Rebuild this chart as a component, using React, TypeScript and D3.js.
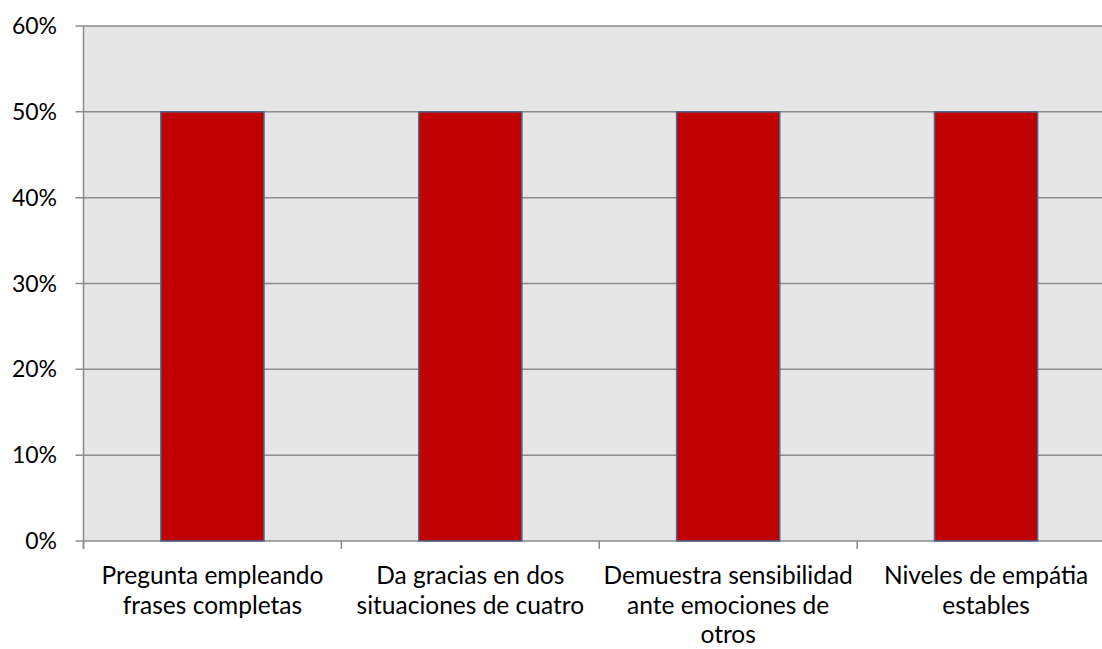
import React from "react";
import * as d3 from "d3";

const categories: string[][] = [
  ["Pregunta empleando", "frases completas"],
  ["Da gracias en dos", "situaciones de cuatro"],
  ["Demuestra sensibilidad", "ante emociones de", "otros"],
  ["Niveles de empátia", "estables"],
];
const values: number[] = [0.5, 0.5, 0.5, 0.5];
const yTicks: number[] = [0, 0.1, 0.2, 0.3, 0.4, 0.5, 0.6];

const W = 1102;
const H = 649;
const left = 83.5;
const right = 1115;
const top = 26;
const bottom = 541;
const FONT = "Lato, 'Open Sans', sans-serif";

export default function App() {
  const x = d3
    .scaleBand<number>()
    .domain(d3.range(categories.length))
    .range([left, right])
    .paddingInner(0.6)
    .paddingOuter(0.3);
  const step = (right - left) / categories.length;
  const y = d3.scaleLinear().domain([0, 0.6]).range([bottom, top]);
  const fmt = d3.format(".0%");

  return (
    <svg
      width={W}
      height={H}
      style={{ position: "absolute", left: 0, top: 0, background: "#fff" }}
    >
      <rect x={left} y={top} width={right - left} height={bottom - top} fill="#E6E6E6" />
      {yTicks.map((t) => (
        <g key={t}>
          <line x1={left - 8} x2={right} y1={y(t)} y2={y(t)} stroke="#8C8C8C" strokeWidth={1.5} />
          <text
            x={57}
            y={y(t)}
            dy="0.35em"
            textAnchor="end"
            fontFamily={FONT}
            fontSize={23}
            fill="#000"
          >
            {fmt(t)}
          </text>
        </g>
      ))}
      <line x1={left} x2={left} y1={top} y2={bottom + 8} stroke="#8C8C8C" strokeWidth={1.5} />
      {categories.map((_, i) => (
        <line
          key={"t" + i}
          x1={left + i * step}
          x2={left + i * step}
          y1={bottom}
          y2={bottom + 8}
          stroke="#8C8C8C"
          strokeWidth={1.5}
        />
      ))}
      {values.map((v, i) => (
        <rect
          key={"b" + i}
          x={x(i)}
          y={y(v)}
          width={x.bandwidth()}
          height={y(0) - y(v)}
          fill="#C00000"
          stroke="#4A6A90"
          strokeWidth={1.5}
        />
      ))}
      {categories.map((lines, i) => (
        <text
          key={"c" + i}
          x={(x(i) as number) + x.bandwidth() / 2}
          y={584}
          textAnchor="middle"
          fontFamily={FONT}
          fontSize={24.5}
          fill="#000"
        >
          {lines.map((l, j) => (
            <tspan key={j} x={(x(i) as number) + x.bandwidth() / 2} dy={j === 0 ? 0 : 29.5}>
              {l}
            </tspan>
          ))}
        </text>
      ))}
    </svg>
  );
}
